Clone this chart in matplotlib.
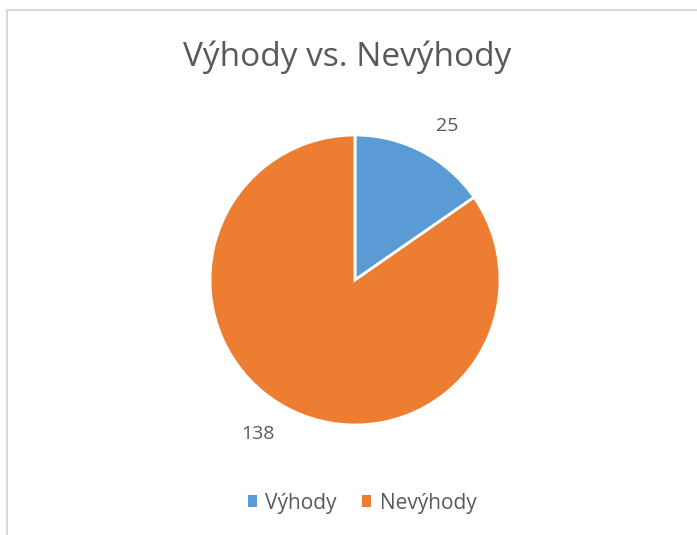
import matplotlib.pyplot as plt
from matplotlib.patches import Rectangle, Patch

# data
categories = ["Výhody", "Nevýhody"]
values = [25, 138]
colors = ["#5B9BD5", "#ED7D31"]

plt.rcParams['font.family'] = ['Open Sans', 'DejaVu Sans']
text_color = "#595959"

W, H = 697, 535
fig = plt.figure(figsize=(W / 100, H / 100), dpi=100)

# chart border (light gray, cut off on right/bottom)
fig.patches.append(Rectangle((6.5 / W, -0.1), 1.2, (H - 9.5) / H + 0.1,
                             transform=fig.transFigure, fill=False,
                             edgecolor="#D9D9D9", linewidth=1.5))

# pie axes centered at (355, 280) px, radius 145 px
cx, cy, r = 355, 280, 145
ax = fig.add_axes([(cx - r) / W, (H - cy - r) / H, 2 * r / W, 2 * r / H])
wedges, texts = ax.pie(values, colors=colors, startangle=90, counterclock=False,
                       labels=[str(v) for v in values], labeldistance=1.2,
                       wedgeprops=dict(edgecolor="white", linewidth=2),
                       textprops=dict(color=text_color, fontsize=14))
ax.set_xlim(-1, 1)
ax.set_ylim(-1, 1)
ax.set_aspect('equal')

fig.text(347 / W, 1 - 57 / H, "Výhody vs. Nevýhody", ha='center', va='center',
         fontsize=24, color=text_color)

handles = [Patch(facecolor=c, label=l) for c, l in zip(colors, categories)]
fig.legend(handles=handles, loc='center', bbox_to_anchor=(362 / W, 1 - 503 / H),
           ncol=2, frameon=False, handlelength=0.45, handleheight=0.45,
           handletextpad=0.4, columnspacing=1.2, fontsize=15,
           labelcolor=text_color)

fig.savefig("out.png", dpi=100)
